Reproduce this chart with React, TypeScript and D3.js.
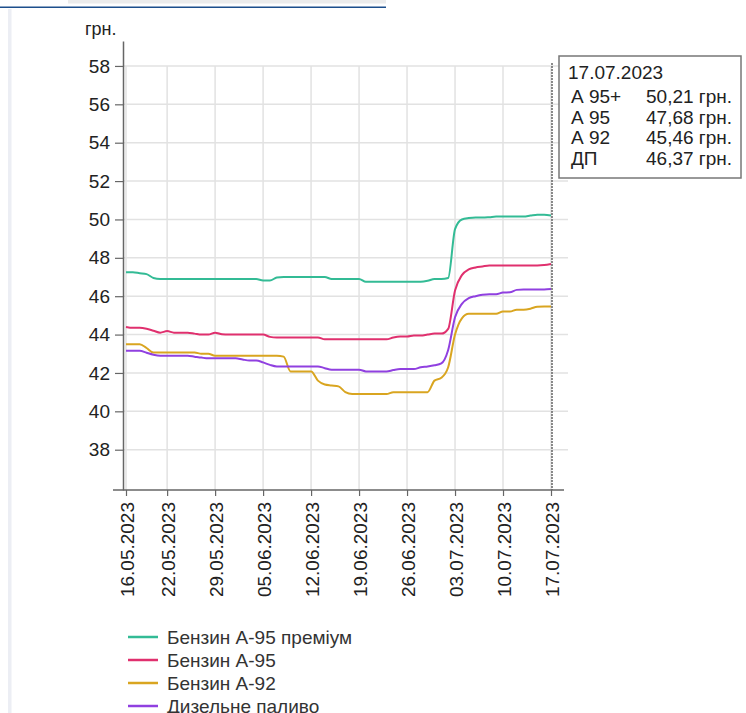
import * as d3 from 'd3';
import { useEffect, useRef } from 'react';

// daily prices, 16.05.2023 .. 17.07.2023 (63 days)
const startDate = new Date(2023, 4, 16);
const dayCount = 63;

const a95plus = [
  47.25, 47.25, 47.2, 47.15, 46.95, 46.9,
  46.9, 46.9, 46.9, 46.9, 46.9, 46.9, 46.9, 46.9, 46.9, 46.9, 46.9, 46.9, 46.9, 46.9,
  46.82, 46.82, 46.97,
  47.0, 47.0, 47.0, 47.0, 47.0, 47.0, 47.0,
  46.9, 46.9, 46.9, 46.9, 46.9,
  46.75, 46.75, 46.75, 46.75, 46.75, 46.75, 46.75, 46.75, 46.75,
  46.8, 46.9, 46.9, 46.95,
  49.5, 50.0, 50.07, 50.1, 50.1, 50.12, 50.15, 50.15, 50.15, 50.15, 50.15, 50.2, 50.25, 50.25, 50.21,
];

const a95 = [
  44.4, 44.35, 44.35, 44.3, 44.2, 44.1, 44.18, 44.1, 44.1, 44.1, 44.05, 44.0, 44.0, 44.1, 44.02,
  44.0, 44.0, 44.0, 44.0, 44.0, 44.0,
  43.88,
  43.85, 43.85, 43.85, 43.85, 43.85, 43.85, 43.85,
  43.75, 43.75, 43.75, 43.75, 43.75, 43.75, 43.75, 43.75, 43.75, 43.75,
  43.85, 43.9, 43.9, 43.95, 43.95, 44.0, 44.05, 44.05,
  44.3, 46.3, 47.1, 47.4, 47.5, 47.55,
  47.6, 47.6, 47.6, 47.6, 47.6, 47.6, 47.6, 47.6,
  47.62, 47.68,
];

const a92 = [
  43.5, 43.5, 43.5, 43.3, 43.07,
  43.07, 43.07, 43.07, 43.07, 43.07, 43.07,
  43.0, 43.0,
  42.9, 42.9, 42.9, 42.9, 42.9, 42.9, 42.9, 42.9, 42.9, 42.9, 42.85,
  42.08, 42.08, 42.08, 42.08,
  41.6, 41.4, 41.35, 41.3, 41.0,
  40.9, 40.9, 40.9, 40.9, 40.9, 40.9,
  41.0, 41.0, 41.0, 41.0, 41.0, 41.0,
  41.6, 41.75, 42.3, 44.0, 44.85,
  45.08, 45.08, 45.08, 45.08, 45.08,
  45.2, 45.2, 45.3, 45.3, 45.35, 45.45, 45.46, 45.46,
];

const dp = [
  43.16, 43.16, 43.16, 43.05, 42.95,
  42.9, 42.9, 42.9, 42.9, 42.9,
  42.85, 42.8,
  42.76, 42.76, 42.76, 42.76, 42.76,
  42.7, 42.65, 42.65, 42.55, 42.42,
  42.34, 42.34, 42.34, 42.34, 42.34, 42.34, 42.34,
  42.25,
  42.17, 42.17, 42.17, 42.17, 42.17,
  42.08, 42.08, 42.08, 42.08,
  42.15, 42.2, 42.2, 42.2, 42.3, 42.34, 42.4, 42.5,
  43.2, 44.9, 45.6, 45.9, 46.0, 46.07, 46.1, 46.1, 46.19, 46.2, 46.33, 46.35, 46.35, 46.35, 46.35, 46.37,
];

const series = [
  { name: 'Бензин А-95 преміум', short: 'А 95+', values: a95plus, color: '#33bb95' },
  { name: 'Бензин А-95', short: 'А 95', values: a95, color: '#e0306e' },
  { name: 'Бензин А-92', short: 'А 92', values: a92, color: '#d9a520' },
  { name: 'Дизельне паливо', short: 'ДП', values: dp, color: '#9040e0' },
];

const yTicks = [38, 40, 42, 44, 46, 48, 50, 52, 54, 56, 58];
const xTickLabels = [
  '16.05.2023', '22.05.2023', '29.05.2023', '05.06.2023', '12.06.2023',
  '19.06.2023', '26.06.2023', '03.07.2023', '10.07.2023', '17.07.2023',
];

const FONT = '"Liberation Sans", Arial, sans-serif';

const App = () => {
  const svgRef = useRef<SVGSVGElement | null>(null);

  useEffect(() => {
    const width = 746;
    const height = 713;
    const parse = d3.timeParse('%d.%m.%Y');
    const fmt = d3.timeFormat('%d.%m.%Y');
    const dates = d3.range(dayCount).map((i) => d3.timeDay.offset(startDate, i));
    const xTicks = xTickLabels.map((s) => parse(s)!);

    const x = d3.scaleTime()
      .domain([dates[0], dates[dates.length - 1]])
      .range([126, 551]);

    const y = d3.scaleLinear()
      .domain([35.9, 59.3])
      .range([490, 41]);

    const svg = d3.select(svgRef.current)
      .attr('width', width)
      .attr('height', height)
      .style('font-family', FONT);

    svg.selectAll('*').remove();

    svg.append('rect').attr('width', width).attr('height', height).attr('fill', '#fff');

    // page frame bits
    svg.append('rect').attr('x', 68).attr('y', 0).attr('width', 318).attr('height', 3.5).attr('fill', '#ececec');
    svg.append('rect').attr('x', 0).attr('y', 6.5).attr('width', 386).attr('height', 1.5).attr('fill', '#1d4f8c');
    svg.append('rect').attr('x', 8).attr('y', 9).attr('width', 3.5).attr('height', height - 9).attr('fill', '#eceef4');

    // grid
    const grid = svg.append('g').attr('stroke', '#e2e2e2').attr('stroke-width', 1.5);
    grid.selectAll('line.h')
      .data(yTicks)
      .join('line')
      .attr('x1', 123).attr('x2', 568)
      .attr('y1', (d) => y(d)).attr('y2', (d) => y(d));
    grid.selectAll('line.v')
      .data(xTicks)
      .join('line')
      .attr('x1', (d) => x(d)).attr('x2', (d) => x(d))
      .attr('y1', y(58)).attr('y2', y(35.9));

    // y axis
    const yAxis = svg.append('g')
      .attr('transform', 'translate(123,0)')
      .call(d3.axisLeft(y).tickValues(yTicks).tickSize(8).tickSizeOuter(0).tickPadding(5));
    yAxis.select('.domain').attr('stroke', '#666').attr('stroke-width', 1.5);
    yAxis.selectAll('.tick line').attr('stroke', '#666').attr('stroke-width', 1.2);
    yAxis.selectAll('.tick text')
      .attr('fill', '#222')
      .style('font-size', '19px')
      .style('font-family', FONT);

    svg.append('text')
      .attr('x', 85).attr('y', 35)
      .attr('fill', '#222')
      .style('font-size', '18px')
      .text('грн.');

    // x axis
    const xAxis = svg.append('g')
      .attr('transform', 'translate(0,490)')
      .call(d3.axisBottom(x).tickValues(xTicks).tickFormat((d) => fmt(d as Date)).tickSize(6).tickSizeOuter(0));
    xAxis.select('.domain').remove();
    xAxis.append('line')
      .attr('x1', 113).attr('x2', 564)
      .attr('stroke', '#666').attr('stroke-width', 1.5);
    xAxis.selectAll('.tick line').attr('stroke', '#666').attr('stroke-width', 1.2);
    xAxis.selectAll('.tick text')
      .attr('transform', 'rotate(-90)')
      .attr('x', -12).attr('y', 1).attr('dy', '0.35em')
      .attr('text-anchor', 'end')
      .attr('fill', '#222')
      .style('font-size', '19px')
      .style('font-family', FONT);

    // lines
    const line = d3.line<number>()
      .x((_, i) => x(dates[i]))
      .y((d) => y(d))
      .curve(d3.curveMonotoneX);

    svg.append('g')
      .selectAll('path')
      .data(series)
      .join('path')
      .attr('fill', 'none')
      .attr('stroke', (d) => d.color)
      .attr('stroke-width', 2)
      .attr('d', (d) => line(d.values));

    // hover marker
    const last = dates[dates.length - 1];
    svg.append('line')
      .attr('x1', x(last) + 1).attr('x2', x(last) + 1)
      .attr('y1', 63).attr('y2', 490)
      .attr('stroke', '#666').attr('stroke-width', 1.5)
      .attr('stroke-dasharray', '2,1');

    // tooltip
    const tip = svg.append('g').attr('transform', 'translate(559,56)');
    tip.append('rect')
      .attr('width', 182).attr('height', 122)
      .attr('fill', '#fff').attr('stroke', '#777').attr('stroke-width', 1.5);
    tip.append('text')
      .attr('x', 9).attr('y', 23)
      .attr('fill', '#222').style('font-size', '19px')
      .text(fmt(last));
    const rows = tip.selectAll('g.row')
      .data(series)
      .join('g')
      .attr('transform', (_, i) => `translate(0,${47 + i * 20.5})`);
    rows.append('text')
      .attr('x', 12)
      .attr('fill', '#222').style('font-size', '19px')
      .text((d) => d.short);
    rows.append('text')
      .attr('x', 87)
      .attr('fill', '#222').style('font-size', '19px')
      .text((d) => d.values[d.values.length - 1].toFixed(2).replace('.', ',') + ' грн.');

    // legend
    const legend = svg.append('g').attr('transform', 'translate(128,637)');
    const items = legend.selectAll('g')
      .data(series)
      .join('g')
      .attr('transform', (_, i) => `translate(0,${i * 23})`);
    items.append('line')
      .attr('x1', 0).attr('x2', 30)
      .attr('stroke', (d) => d.color).attr('stroke-width', 2.5);
    items.append('text')
      .attr('x', 39).attr('dy', '0.35em')
      .attr('fill', '#333').style('font-size', '19px')
      .text((d) => d.name);
  }, []);

  return <svg ref={svgRef} style={{ position: 'absolute', left: 0, top: 0 }}></svg>;
};

export default App;
